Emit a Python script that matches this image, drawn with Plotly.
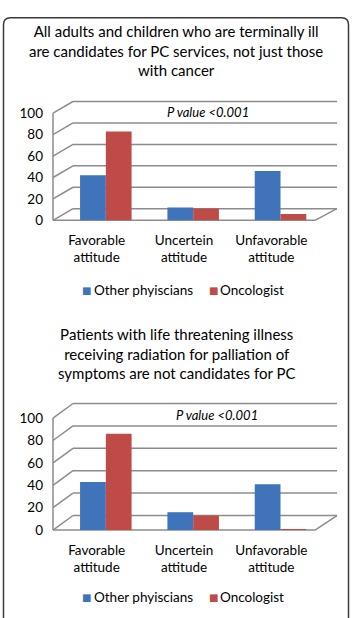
import plotly.graph_objects as go

W, H = 352, 618

categories = ["Favorable<br>attitude", "Uncertein<br>attitude", "Unfavorable<br>attitude"]
series_names = ["Other phyiscians", "Oncologist"]
series_colors = ["#3F74BA", "#BE4B48"]

titles = [
    "All adults and children who are terminally ill<br>are candidates for PC services, not just those<br>with cancer",
    "Patients with life threatening illness<br>receiving radiation for palliation of<br>symptoms are not candidates for PC",
]
p_text = "P value <0.001"

# chart 1 values (%)
c1_other = [42, 12, 46]
c1_onco = [83, 11, 6]
# chart 2 values (%)
c2_other = [43, 16, 41]
c2_onco = [86, 13, 1]

y_ticks = [0, 20, 40, 60, 80, 100]

FONT = "Lato"


def px(x):
    return x / W


def py(y):
    return 1 - y / H


# bar placement (category units): bars drawn slightly right of label (3D look)
bar_width = 0.295
bar_offsets = [-0.19, 0.105]

fig = go.Figure()
data = [(c1_other, c1_onco), (c2_other, c2_onco)]
for i, (oth, onc) in enumerate(data):
    xa = "x" if i == 0 else "x2"
    ya = "y" if i == 0 else "y2"
    for name, vals, col, off in zip(series_names, [oth, onc], series_colors, bar_offsets):
        fig.add_trace(go.Bar(x=categories, y=vals, name=name, marker_color=col,
                             marker_line_width=0, xaxis=xa, yaxis=ya,
                             width=bar_width, offset=off, showlegend=False))

# plot areas (pixel geometry)
xdom_px = (53, 315)
ydoms_px = [(108, 218), (421, 536)]
depth_px = [12, 15]
back_dx = 20
back_right = 337

axis_common = dict(showgrid=False, zeroline=False, showline=False, ticks="",
                   tickfont=dict(family=FONT, size=13.5, color="#000"))

shapes = []
for i, ((yt, yb), dpx) in enumerate(zip(ydoms_px, depth_px)):
    suf = "" if i == 0 else "2"
    fig.update_layout(**{
        "xaxis" + suf: dict(domain=[px(xdom_px[0]), px(xdom_px[1])], anchor="y" + suf,
                            ticklabelstandoff=10, **axis_common),
        "yaxis" + suf: dict(domain=[py(yb), py(yt)], anchor="x" + suf, range=[0, 100],
                            tickvals=y_ticks, ticklabelstandoff=9, **axis_common),
    })
    wpx = xdom_px[1] - xdom_px[0]
    hpx = yb - yt
    dxf = back_dx / wpx
    xr = (back_right - xdom_px[0]) / wpx
    dyf = dpx / hpx
    xref = "x" + suf + " domain"
    yref = "y" + suf + " domain"
    line = dict(color="#8C8C8C", width=1.5)
    for v in y_ticks:
        f = v / 100
        shapes.append(dict(type="line", xref=xref, yref=yref, x0=0, y0=f, x1=dxf, y1=f + dyf,
                           line=line, layer="below"))
        shapes.append(dict(type="line", xref=xref, yref=yref, x0=dxf, y0=f + dyf, x1=xr, y1=f + dyf,
                           line=line, layer="below"))
    shapes.append(dict(type="line", xref=xref, yref=yref, x0=0, y0=0, x1=0, y1=1, line=line, layer="below"))
    shapes.append(dict(type="line", xref=xref, yref=yref, x0=0, y0=0, x1=1, y1=0, line=line, layer="below"))
    shapes.append(dict(type="line", xref=xref, yref=yref, x0=1, y0=0, x1=xr, y1=dyf, line=line, layer="below"))

# outer frame with rounded top corners
x0, x1, yt, r = px(3.5), px(348.5), py(10), 7
rx, ry = r / W, r / H
frame = (f"M {x0},{-0.05} L {x0},{yt - ry} Q {x0},{yt} {x0 + rx},{yt} "
         f"L {x1 - rx},{yt} Q {x1},{yt} {x1},{yt - ry} L {x1},{-0.05}")
shapes.append(dict(type="path", xref="paper", yref="paper", path=frame,
                   line=dict(color="#3A3A3A", width=1.5)))

annotations = []
title_y = [44, 355]
p_pos = [(208, 107), (217, 418)]
legend_y = [290, 605]
legend_sq_x = [80, 207]
legend_txt_x = [92, 218]
for i in range(2):
    annotations.append(dict(text=titles[i], x=0.5, y=py(title_y[i]), xref="paper", yref="paper",
                            xanchor="center", yanchor="middle", showarrow=False,
                            font=dict(family=FONT, size=15, color="#000")))
    annotations.append(dict(text="<i>" + p_text + "</i>", x=px(p_pos[i][0]), y=py(p_pos[i][1]),
                            xref="paper", yref="paper", xanchor="center", yanchor="middle",
                            showarrow=False, font=dict(family=FONT, size=13, color="#000")))
    for name, col, sx, tx in zip(series_names, series_colors, legend_sq_x, legend_txt_x):
        annotations.append(dict(text="■", x=px(sx), y=py(legend_y[i]), xref="paper", yref="paper",
                                xanchor="left", yanchor="middle", showarrow=False,
                                font=dict(family="DejaVu Sans", size=10, color=col)))
        annotations.append(dict(text=name, x=px(tx), y=py(legend_y[i]), xref="paper", yref="paper",
                                xanchor="left", yanchor="middle", showarrow=False,
                                font=dict(family=FONT, size=13.5, color="#000")))

fig.update_layout(width=W, height=H, margin=dict(l=0, r=0, t=0, b=0),
                  paper_bgcolor="white", plot_bgcolor="rgba(0,0,0,0)",
                  barmode="group",
                  shapes=shapes, annotations=annotations,
                  font=dict(family=FONT, size=13, color="#000"))

fig.write_html("out.html")
